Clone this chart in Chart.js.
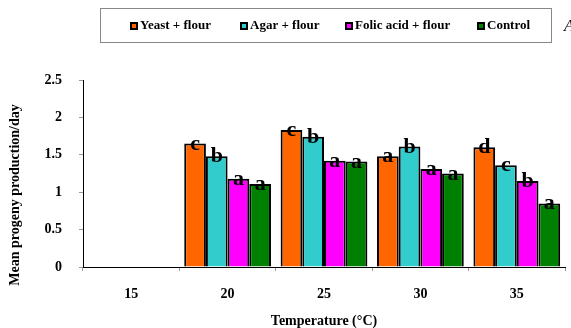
<!DOCTYPE html>
<html>
  <head>
    <meta charset="utf-8">
    <title>Mean progeny production</title>
    <style>
      html, body { margin: 0; padding: 0; background: #fff; }
      #wrap { width: 571px; height: 328px; }
    </style>
  </head>
  <body>
    <div id="wrap"><canvas id="chart1" width="571" height="328"></canvas></div>
    <script src="https://cdn.jsdelivr.net/npm/chart.js@4/dist/chart.umd.min.js"></script>
    <script>
      // data
      var temps = ['15', '20', '25', '30', '35']
      var seriesNames = ['Yeast + flour', 'Agar + flour', 'Folic acid + flour', 'Control']
      var seriesColors = ['#FF6600', '#33CCCC', '#FF00FF', '#008000']
      var yeast = [null, 1.65, 1.83, 1.48, 1.60]
      var agar = [null, 1.48, 1.74, 1.61, 1.36]
      var folic = [null, 1.18, 1.42, 1.31, 1.15]
      var control = [null, 1.11, 1.41, 1.25, 0.85]
      var yeastLetters = ['', 'c', 'c', 'a', 'd']
      var agarLetters = ['', 'b', 'b', 'b', 'c']
      var folicLetters = ['', 'a', 'a', 'a', 'b']
      var controlLetters = ['', 'a', 'a', 'a', 'a']
      var yTicks = [0, 0.5, 1, 1.5, 2, 2.5]

      var serif = '"Liberation Serif", "Times New Roman", serif'
      var values = [yeast, agar, folic, control]
      var letters = [yeastLetters, agarLetters, folicLetters, controlLetters]

      var datasets = seriesNames.map(function (name, i) {
        return {
          label: name,
          data: values[i],
          letters: letters[i],
          backgroundColor: seriesColors[i],
          borderColor: '#000',
          borderWidth: 2,
          borderSkipped: 'bottom',
          categoryPercentage: 0.9,
          barPercentage: 1.0
        }
      })

      // letters over the bars, titles and the boxed legend
      var extras = {
        id: 'extras',
        afterDatasetsDraw: function (chart) {
          var ctx = chart.ctx
          ctx.save()
          ctx.fillStyle = '#000'
          ctx.font = 'bold 22px ' + serif
          ctx.textAlign = 'center'
          ctx.textBaseline = 'alphabetic'
          chart.data.datasets.forEach(function (ds, i) {
            chart.getDatasetMeta(i).data.forEach(function (bar, j) {
              if (ds.data[j] == null) return
              ctx.fillText(ds.letters[j], bar.x, bar.y + 6)
            })
          })
          ctx.restore()
        },
        afterDraw: function (chart) {
          var ctx = chart.ctx
          var area = chart.chartArea
          ctx.save()
          ctx.fillStyle = '#000'
          ctx.font = 'bold 14px ' + serif
          ctx.textAlign = 'center'
          ctx.textBaseline = 'middle'
          ctx.fillText('Temperature (°C)', (area.left + area.right) / 2, 321)

          ctx.translate(15, 195)
          ctx.rotate(-Math.PI / 2)
          ctx.fillText('Mean progeny production/day', 0, 0)
          ctx.restore()

          // legend box
          ctx.save()
          ctx.strokeStyle = '#888'
          ctx.lineWidth = 1
          ctx.strokeRect(100.5, 8.5, 451, 34)
          var xs = [130, 240, 345, 477]
          ctx.font = 'bold 13px ' + serif
          ctx.textBaseline = 'middle'
          ctx.textAlign = 'left'
          chart.data.datasets.forEach(function (ds, i) {
            ctx.fillStyle = '#000'
            ctx.fillRect(xs[i], 22, 8, 8)
            ctx.fillStyle = ds.backgroundColor
            ctx.fillRect(xs[i] + 2, 24, 4, 4)
            ctx.fillStyle = '#000'
            ctx.fillText(ds.label, xs[i] + 10, 26)
          })
          ctx.font = 'italic 17px ' + serif
          ctx.fillText('A', 564, 27)
          ctx.restore()
        }
      }

      var ctx = document.getElementById('chart1').getContext('2d')
      var chart1 = new Chart(ctx, {
        type: 'bar',
        data: { labels: temps, datasets: datasets },
        options: {
          animation: false,
          responsive: false,
          layout: { padding: { top: 80, right: 6, left: 0, bottom: 0 } },
          plugins: {
            legend: { display: false },
            tooltip: { enabled: false }
          },
          scales: {
            x: {
              afterFit: function (scale) { scale.height = 61 },
              grid: { drawOnChartArea: false, color: '#999', tickLength: 4, offset: true },
              border: { color: '#000', width: 1 },
              ticks: {
                color: '#000',
                padding: 15,
                font: { family: serif, size: 14, weight: 'bold' }
              }
            },
            y: {
              min: 0,
              max: 2.5,
              afterFit: function (scale) { scale.width = 83 },
              afterBuildTicks: function (scale) {
                scale.ticks = yTicks.map(function (v) { return { value: v } })
              },
              grid: { drawOnChartArea: false, color: '#999', tickLength: 4 },
              border: { color: '#000', width: 1 },
              ticks: {
                color: '#000',
                padding: 17,
                font: { family: serif, size: 14, weight: 'bold' },
                callback: function (v) { return String(v) }
              }
            }
          }
        },
        plugins: [extras]
      })
    </script>
  </body>
</html>
